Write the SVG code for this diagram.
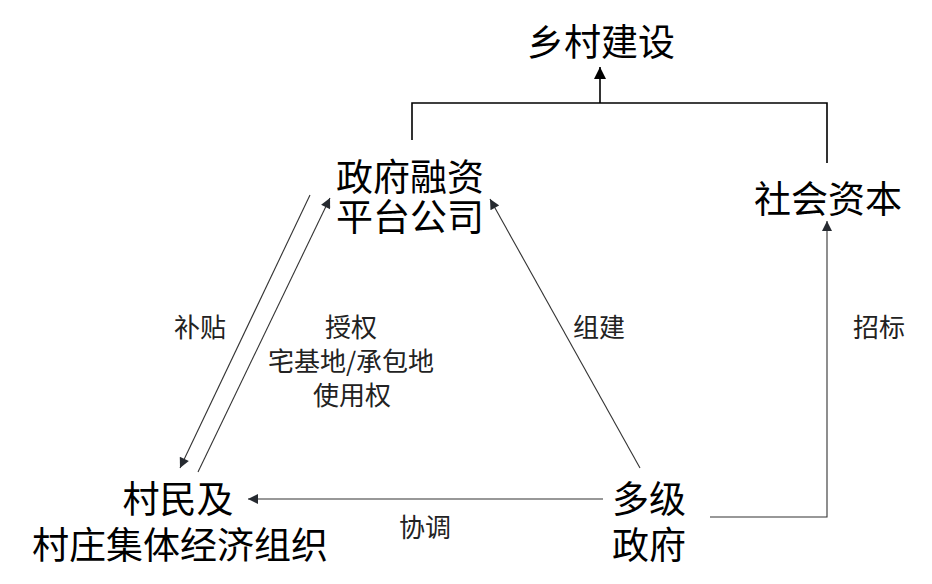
<svg xmlns="http://www.w3.org/2000/svg" width="932" height="584" viewBox="0 0 932 584">
<style>
text{font-family:"Noto Sans CJK SC","Noto Sans",sans-serif;fill:#000;text-anchor:middle;dominant-baseline:central}
.n{font-size:37px}
.l{font-size:26px;fill:#222}
.c{fill:none;stroke:#333;stroke-width:1.1}
.t{fill:none;stroke:#000;stroke-width:1.6}
</style>
<defs>
<marker id="ah" viewBox="0 0 10 10" refX="10" refY="5" markerWidth="12" markerHeight="10" markerUnits="userSpaceOnUse" orient="auto">
<path d="M0,0 L10,5 L0,10 z" fill="#262a30"/>
</marker>
<marker id="ahb" viewBox="0 0 10 10" refX="10" refY="5" markerWidth="13" markerHeight="12" markerUnits="userSpaceOnUse" orient="auto">
<path d="M0,0 L10,5 L0,10 z" fill="#000"/>
</marker>
</defs>
<rect width="932" height="584" fill="#fff"/>
<g id="connectors">
<polyline class="t" points="412,140 412,103 827,103 827,163"/>
<line class="t" x1="600" y1="103" x2="600" y2="67" marker-end="url(#ahb)"/>
<line class="c" x1="310" y1="195" x2="180" y2="468" marker-end="url(#ah)"/>
<line class="c" x1="198" y1="472" x2="330" y2="198" marker-end="url(#ah)"/>
<line class="c" x1="640" y1="468" x2="490" y2="199" marker-end="url(#ah)"/>
<line class="c" x1="603" y1="499" x2="248" y2="499" marker-end="url(#ah)"/>
<polyline class="c" points="710,517 827,517 827,221" marker-end="url(#ah)"/>
</g>
<g id="labels">
<text class="l" x="200" y="325">补贴</text>
<text class="l" x="351" y="325">授权</text>
<text class="l" x="351" y="359">宅基地/承包地</text>
<text class="l" x="352" y="393">使用权</text>
<text class="l" x="599" y="325">组建</text>
<text class="l" x="879" y="325">招标</text>
<text class="l" x="425" y="525">协调</text>
</g>
<g id="node-rural"><text class="n" x="601" y="40">乡村建设</text></g>
<g id="node-platform"><text class="n" x="410" y="175">政府融资<tspan x="410" y="215">平台公司</tspan></text></g>
<g id="node-capital"><text class="n" x="828" y="197">社会资本</text></g>
<g id="node-gov"><text class="n" x="649" y="497">多级<tspan x="649" y="543">政府</tspan></text></g>
<g id="node-village"><text class="n" x="178" y="497">村民及<tspan x="180" y="543">村庄集体经济组织</tspan></text></g>
</svg>
